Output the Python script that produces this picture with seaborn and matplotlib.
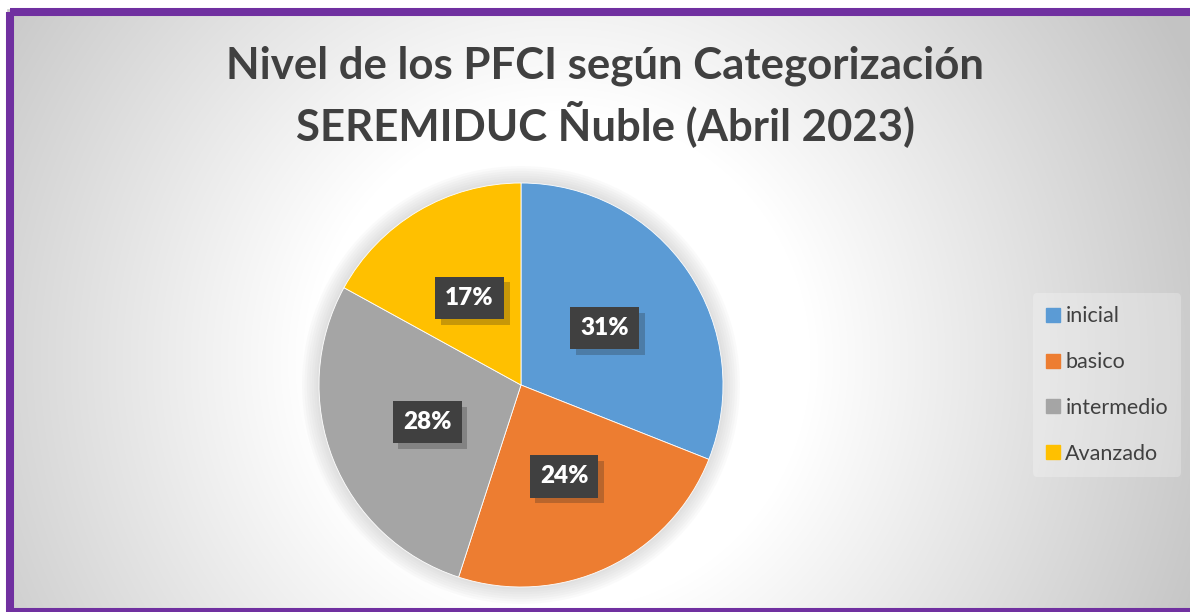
import numpy as np
import seaborn as sns
import matplotlib.pyplot as plt
from matplotlib.patches import Rectangle, Circle
from matplotlib.lines import Line2D
import matplotlib.patheffects as pe

# data
categorias = ['inicial', 'basico', 'intermedio', 'Avanzado']
porcentajes = [31, 24, 28, 17]
colores = ['#5b9bd5', '#ed7d31', '#a5a5a5', '#ffc000']
titulo = 'Nivel de los PFCI según Categorización\nSEREMIDUC Ñuble (Abril 2023)'

sns.set_theme(style='white')
plt.rcParams['font.family'] = ['Lato', 'DejaVu Sans']

W, H = 1190, 612
fig = plt.figure(figsize=(W / 100, H / 100), dpi=100)
fig.patch.set_facecolor('white')

# background radial gradient
bg = fig.add_axes([0, 0, 1, 1], zorder=-10)
yy, xx = np.mgrid[0:H, 0:W]
d = np.sqrt((xx - 560) ** 2 + (yy - 360) ** 2)
t = np.clip((d - 250) / (700 - 250), 0, 1)
grad = 1 - t * (1 - 195 / 255)
bg.imshow(np.dstack([grad, grad, grad]), extent=(0, W, H, 0), aspect='auto')
bg.set_xlim(0, W)
bg.set_ylim(H, 0)
bg.axis('off')

# purple frame
bg.add_patch(Rectangle((0, 0), W, 8, color='white', zorder=5))
bg.add_patch(Rectangle((0, 0), 6, H, color='white', zorder=5))
bg.add_patch(Rectangle((10, 12), W + 20, 600, fill=False, edgecolor='#7030a0',
                       linewidth=5.8, zorder=6))

# title
fig.text(605 / W, 1 - 96 / H, titulo, ha='center', va='center', fontsize=31.5,
         fontweight='bold', color='#404040', linespacing=1.35)

# pie
cx, cy, r = 521, 385, 202
ax = fig.add_axes([(cx - r) / W, (H - cy - r) / H, 2 * r / W, 2 * r / H])
ax.set_facecolor('none')
for k in range(8):
    ax.add_patch(Circle((0, 0), 1.0 + 0.012 * k, color='#808080', alpha=0.035,
                        zorder=0, lw=0))
wedges, texts, autotexts = ax.pie(
    porcentajes, colors=colores, startangle=90, counterclock=False,
    autopct='%1.0f%%', pctdistance=0.5,
    wedgeprops=dict(linewidth=0.6, edgecolor='white'),
    textprops=dict(color='white', fontsize=17.5, fontweight='heavy'))
for w in wedges:
    w.set_zorder(2)
for at in autotexts:
    at.set_zorder(5)
    at.set_bbox(dict(boxstyle='square,pad=0.42', facecolor='#404040',
                     edgecolor='none', linewidth=0))
    at.get_bbox_patch().set_path_effects(
        [pe.SimplePatchShadow(offset=(4, -4), shadow_rgbFace='#202020', alpha=0.25),
         pe.Normal()])
ax.set_xlim(-1, 1)
ax.set_ylim(-1, 1)
ax.axis('off')
for c in ax.patches:
    c.set_clip_on(False)

# legend
handles = [Line2D([0], [0], marker='s', linestyle='none', markersize=10,
                  markerfacecolor=c, markeredgecolor=c) for c in colores]
leg = fig.legend(handles, categorias, loc='center left',
                 bbox_to_anchor=(1033 / W, 1 - 385 / H), frameon=True,
                 fontsize=15.5, labelspacing=1.2, handletextpad=0.2,
                 handlelength=0.7, borderpad=0.6, borderaxespad=0)
leg.get_frame().set_facecolor('white')
leg.get_frame().set_alpha(0.25)
leg.get_frame().set_edgecolor('none')
for txt in leg.get_texts():
    txt.set_color('#404040')

fig.savefig('out.png', dpi=100)
